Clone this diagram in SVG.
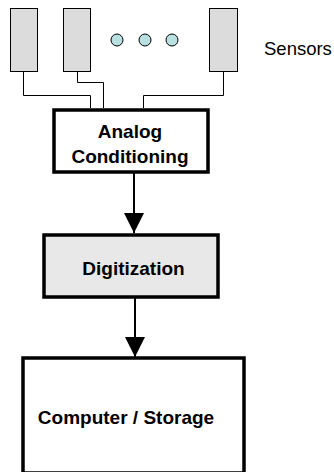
<svg xmlns="http://www.w3.org/2000/svg" width="334" height="472" viewBox="0 0 334 472">
<style>
.sensor{fill:#dcdcdc;stroke:#000;stroke-width:1}
.dot{fill:#b8e0e0;stroke:#000;stroke-width:1}
.box{stroke:#000;stroke-width:3.5}
.wire{fill:none;stroke:#000;stroke-width:1}
.arrow{fill:none;stroke:#000;stroke-width:2}
.lbl{font-family:"Liberation Sans",Arial,sans-serif;font-weight:bold;font-size:19px;text-anchor:middle;fill:#000}
.plain{font-family:"Liberation Sans",Arial,sans-serif;font-size:18.5px;fill:#000}
</style>
<defs>
<marker id="ah" markerUnits="userSpaceOnUse" markerWidth="22" markerHeight="22" refX="20" refY="10" orient="auto" viewBox="0 0 22 20">
<path d="M0,0 L20,10 L0,20 Z" fill="#000"/>
</marker>
</defs>
<g id="sensor1"><rect class="sensor" x="10.5" y="8.5" width="27" height="63"/></g>
<g id="sensor2"><rect class="sensor" x="63.5" y="8.5" width="27" height="63"/></g>
<g id="sensor3"><rect class="sensor" x="209.5" y="8.5" width="28" height="63"/></g>
<g id="dots">
<ellipse class="dot" cx="117" cy="40" rx="6" ry="6"/>
<ellipse class="dot" cx="145" cy="40" rx="6" ry="6"/>
<ellipse class="dot" cx="172" cy="40" rx="6" ry="6"/>
</g>
<g id="sensors-label"><text class="plain" x="264" y="55">Sensors</text></g>
<g id="analog"><rect class="box" x="54" y="110" width="154" height="62" fill="#fff"/>
<text class="lbl" x="130" y="138">Analog</text>
<text class="lbl" x="130" y="163">Conditioning</text></g>
<g id="digitization"><rect class="box" x="44" y="235" width="174" height="62" fill="#e8e8e8"/>
<text class="lbl" x="133.5" y="275">Digitization</text></g>
<g id="computer"><rect class="box" x="23" y="358" width="221" height="115" fill="#fff"/>
<text class="lbl" x="126" y="424">Computer / Storage</text></g>
<g id="connectors">
<path class="wire" d="M23.5,71.5 V95.5 H90.5 V108"/>
<path class="wire" d="M77.5,71.5 V82.5 H103.5 V108"/>
<path class="wire" d="M223.5,71.5 V95.5 H143.5 V108"/>
<line class="arrow" x1="134" y1="172" x2="134" y2="233" marker-end="url(#ah)"/>
<line class="arrow" x1="135" y1="297" x2="135" y2="357" marker-end="url(#ah)"/>
</g>
</svg>
